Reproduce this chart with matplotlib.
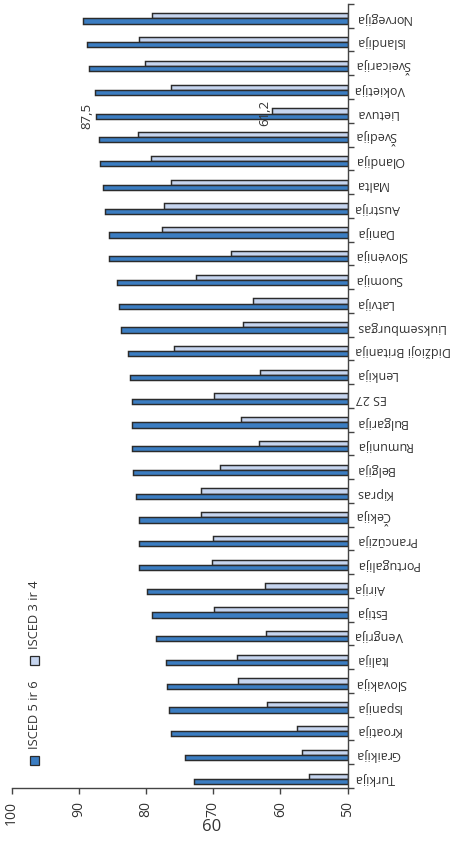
import matplotlib
matplotlib.use("Agg")
import matplotlib.pyplot as plt
from matplotlib.patches import Rectangle
import numpy as np

plt.rcParams['font.family'] = ['Open Sans', 'DejaVu Sans']

# šalys (iš viršaus į apačią)
countries = ["Norvegija", "Islandija", "Šveicarija", "Vokietija", "Lietuva", "Švedija",
             "Olandija", "Malta", "Austrija", "Danija", "Slovėnija", "Suomija", "Latvija",
             "Liuksemburgas", "Didžioji Britanija", "Lenkija", "ES 27", "Bulgarija",
             "Rumunija", "Belgija", "Kipras", "Čekija", "Prancūzija", "Portugalija",
             "Airija", "Estija", "Vengrija", "Italija", "Slovakija", "Ispanija",
             "Kroatija", "Graikija", "Turkija"]

# ISCED 5 ir 6
isced56 = [89.4, 88.8, 88.5, 87.6, 87.5, 87.0, 86.8, 86.4, 86.1, 85.5, 85.5, 84.4, 84.1,
           83.7, 82.7, 82.4, 82.1, 82.1, 82.1, 82.0, 81.5, 81.1, 81.1, 81.0,
           79.9, 79.1, 78.5, 77.0, 76.9, 76.6, 76.3, 74.2, 72.9]

# ISCED 3 ir 4
isced34 = [79.1, 81.0, 80.2, 76.3, 61.2, 81.2, 79.2, 76.3, 77.3, 77.7, 67.4, 72.5, 64.1,
           65.5, 75.8, 63.1, 69.9, 65.9, 63.2, 69.0, 71.8, 71.8, 70.1, 70.2,
           62.3, 69.9, 62.2, 66.5, 66.3, 62.0, 57.5, 56.8, 55.8]

xticks = [100, 90, 80, 70, 60, 50]

dark = "#3b7dc2"
light = "#c6d5ef"
edge = "#2b2b2b"
txt = "#333333"

fig = plt.figure(figsize=(4.52, 8.65), dpi=100)
ax = fig.add_axes([0.026, 0.089, 0.743, 0.9064])

y = np.arange(len(countries))
h = 0.22
v34 = np.array(isced34)
v56 = np.array(isced56)
ax.barh(y, v34 - 50, left=50, height=h, color=light, edgecolor=edge, linewidth=1.05)
ax.barh(y + h, v56 - 50, left=50, height=h, color=dark, edgecolor=edge, linewidth=1.05)

ax.set_xlim(100, 50)
ax.set_ylim(len(countries) - 0.5, -0.5)

# ašys
for s in ["top", "left"]:
    ax.spines[s].set_visible(False)
for s in ["bottom", "right"]:
    ax.spines[s].set_color("#444444")
    ax.spines[s].set_linewidth(1.0)

ax.set_xticks(xticks)
ax.set_xticklabels([str(t) for t in xticks], rotation=90, fontsize=10, color=txt)
ax.tick_params(axis="x", direction="out", length=4, width=1, color="#444444", pad=5.5)

ax.yaxis.tick_right()
ax.set_yticks(y + 0.1)
ax.set_yticklabels(countries, rotation=180, fontsize=9, color=txt, ha="left", va="center")
ax.tick_params(axis="y", which="major", length=0, pad=5.5)
ax.set_yticks(np.arange(len(countries) + 1) - 0.5, minor=True)
ax.tick_params(axis="y", which="minor", direction="out", length=4, width=1, color="#444444")

# Lietuvos reikšmės
i = countries.index("Lietuva")
ax.annotate(f"{isced56[i]:.1f}".replace(".", ","), (isced56[i], y[i] + h), xytext=(-2, 0),
            textcoords="offset points", rotation=90, ha="right", va="center",
            fontsize=9.5, color=txt)
ax.annotate(f"{isced34[i]:.1f}".replace(".", ","), (isced34[i], y[i] + 0.1), xytext=(-1, 0),
            textcoords="offset points", rotation=90, ha="right", va="center",
            fontsize=9.5, color=txt)

# legenda (pasukta)
fig.patches.append(Rectangle((0.0664, 0.1156), 0.0199, 0.0104, transform=fig.transFigure,
                             facecolor=dark, edgecolor=edge, linewidth=0.9))
fig.text(0.0763, 0.134, "ISCED 5 ir 6", rotation=90, ha="center", va="bottom",
         fontsize=9.3, color=txt)
fig.patches.append(Rectangle((0.0664, 0.2312), 0.0199, 0.0104, transform=fig.transFigure,
                             facecolor=light, edgecolor=edge, linewidth=0.9))
fig.text(0.0763, 0.2497, "ISCED 3 ir 4", rotation=90, ha="center", va="bottom",
         fontsize=9.3, color=txt)

# puslapio numeris
fig.text(0.469, 0.044, "60", ha="center", va="center", fontsize=12, color=txt)

fig.savefig("out.png", dpi=100)
